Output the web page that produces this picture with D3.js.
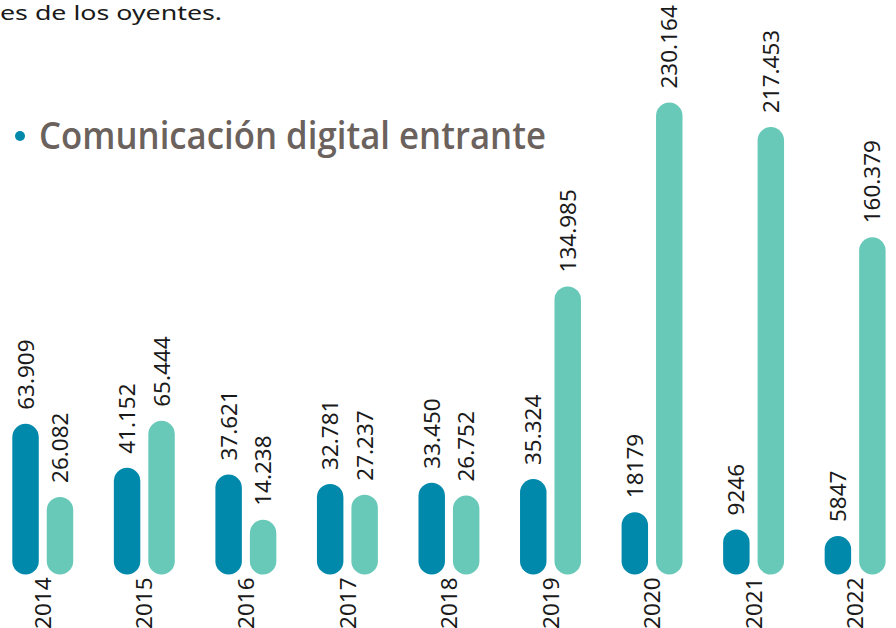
<!DOCTYPE html>
<html>
<head>
<meta charset="utf-8">
<script src="https://cdn.jsdelivr.net/npm/d3@7"></script>
<style>
  html, body { margin: 0; padding: 0; background: #fff; }
  svg { display: block; }
</style>
</head>
<body>
<svg id="chart"></svg>
<script>
const years = ["2014", "2015", "2016", "2017", "2018", "2019", "2020", "2021", "2022"];
const seriesKeys = ["a", "b"];
const darkValues = [63909, 41152, 37621, 32781, 33450, 35324, 18179, 9246, 5847];
const lightValues = [26082, 65444, 14238, 27237, 26752, 134985, 230164, 217453, 160379];
const darkLabels = ["63.909", "41.152", "37.621", "32.781", "33.450", "35.324", "18179", "9246", "5847"];
const lightLabels = ["26.082", "65.444", "14.238", "27.237", "26.752", "134.985", "230.164", "217.453", "160.379"];

const width = 896;
const height = 628;
const barBottom = 574.5;
const colors = { a: "#0189ab", b: "#68c9b9" };

const svg = d3.select("#chart")
  .attr("width", width)
  .attr("height", height)
  .attr("viewBox", [0, 0, width, height]);

// Top text (end of the previous paragraph) and section title
svg.append("text")
  .attr("x", 0)
  .attr("y", 20)
  .attr("font-family", "Noto Sans")
  .attr("font-size", 20)
  .attr("fill", "#1a1a1a")
  .attr("textLength", 222)
  .attr("lengthAdjust", "spacingAndGlyphs")
  .text("es de los oyentes.");

svg.append("circle")
  .attr("cx", 20)
  .attr("cy", 136)
  .attr("r", 5)
  .attr("fill", colors.a);

svg.append("text")
  .attr("x", 39)
  .attr("y", 149)
  .attr("font-family", "Open Sans")
  .attr("font-weight", 600)
  .attr("font-size", 37)
  .attr("fill", "#6b625d")
  .attr("textLength", 507)
  .attr("lengthAdjust", "spacingAndGlyphs")
  .text("Comunicación digital entrante");

// Scales
const x0 = d3.scaleBand()
  .domain(years)
  .range([12.3, 885.6])
  .paddingInner(0.4)
  .paddingOuter(0);

const x1 = d3.scaleBand()
  .domain(seriesKeys)
  .range([0, x0.bandwidth()])
  .paddingInner(0.232);

const y = d3.scaleLinear()
  .domain([0, d3.max(lightValues)])
  .range([547.3, 102.5]);

const rows = years.map((year, i) => ({
  year,
  bars: [
    { key: "a", value: darkValues[i], label: darkLabels[i] },
    { key: "b", value: lightValues[i], label: lightLabels[i] }
  ]
}));

const bw = x1.bandwidth();

const groups = svg.append("g")
  .selectAll("g")
  .data(rows)
  .join("g")
  .attr("transform", d => `translate(${x0(d.year)},0)`);

// Rounded bars
groups.selectAll("rect")
  .data(d => d.bars)
  .join("rect")
  .attr("x", d => x1(d.key))
  .attr("y", d => y(d.value))
  .attr("width", bw)
  .attr("height", d => barBottom - y(d.value))
  .attr("rx", bw / 2)
  .attr("fill", d => colors[d.key]);

// Value labels, rotated
groups.selectAll("text.value")
  .data(d => d.bars)
  .join("text")
  .attr("class", "value")
  .attr("transform", d => `translate(${x1(d.key) + bw / 2},${y(d.value) - 14}) rotate(-90)`)
  .attr("dy", "0.36em")
  .attr("font-family", "Noto Sans")
  .attr("font-size", 22.5)
  .attr("fill", "#1a1a1a")
  .text(d => d.label);

// Year labels under each pair
groups.append("text")
  .attr("transform", `translate(${x0.bandwidth() / 2},${barBottom + 3}) rotate(-90)`)
  .attr("text-anchor", "end")
  .attr("dy", "0.36em")
  .attr("font-family", "Noto Sans")
  .attr("font-size", 22.5)
  .attr("fill", "#1a1a1a")
  .text(d => d.year);
</script>
</body>
</html>
